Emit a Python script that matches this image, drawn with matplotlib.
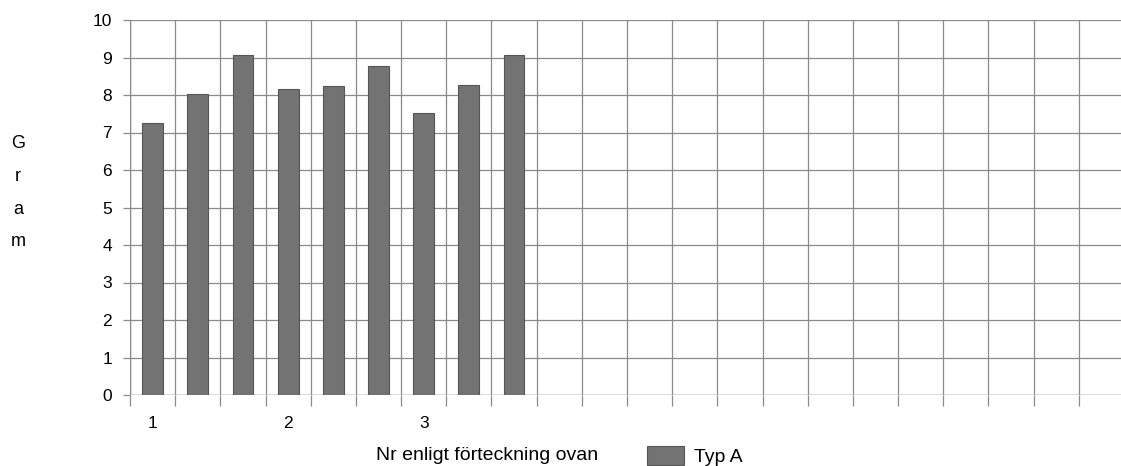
import matplotlib.pyplot as plt
import numpy as np

plt.rcParams['font.family'] = ['Liberation Sans', 'DejaVu Sans']

# varden lasta fran diagrammet
varden = [7.25, 8.03, 9.08, 8.17, 8.24, 8.77, 7.51, 8.27, 9.08]
antal_platser = 22          # antal kolumner i rutnatet
etikett_index = [0, 3, 6]   # vilka kolumner som far en siffra
etiketter = ['1', '2', '3']
y_ticks = list(range(0, 11))

fig = plt.figure(figsize=(11.21, 4.66), dpi=100)
ax = fig.add_axes([130 / 1121, 71 / 466, 994 / 1121, 375 / 466])

x = np.arange(len(varden)) + 0.5
ax.bar(x, varden, width=0.46, color='#737373', edgecolor='#555555',
       linewidth=0.8, zorder=3, label='Typ A')

ax.set_xlim(0, antal_platser)
ax.set_ylim(0, 10)

# rutnat
ax.set_xticks(np.arange(0, antal_platser + 1))
ax.set_xticklabels([])
ax.set_xticks(np.array(etikett_index) + 0.5, minor=True)
ax.set_xticklabels(etiketter, minor=True)
ax.set_yticks(y_ticks)
ax.grid(True, which='major', color='#8a8a8a', linewidth=0.9, zorder=0)
for s in ax.spines.values():
    s.set_visible(False)
ax.tick_params(axis='x', which='major', length=8, color='#8a8a8a', width=0.9)
ax.tick_params(axis='x', which='minor', length=0, pad=15, labelsize=12.5)
ax.tick_params(axis='y', length=5, color='#8a8a8a', width=0.9, labelsize=12.5, pad=8)
ax.axhline(0, color='#8a8a8a', linewidth=1.0, zorder=1)
ax.axvline(0, color='#8a8a8a', linewidth=1.0, zorder=1)

# y-axel text, bokstav for bokstav
for i, bokstav in enumerate('Gram'):
    fig.text(18 / 1121, 1 - (143 + 33 * i) / 466, bokstav, ha='center',
             va='center', fontsize=13)

fig.text(487 / 1121, 1 - 456 / 466, 'Nr enligt förteckning ovan', ha='center',
         va='center', fontsize=14)
fig.legend(loc='center left', bbox_to_anchor=(647 / 1121, 1 - 456 / 466),
           frameon=False, fontsize=14, handlelength=1.9, handleheight=1.1,
           handletextpad=0.5, borderpad=0, borderaxespad=0)

fig.savefig('out.png', dpi=100)
